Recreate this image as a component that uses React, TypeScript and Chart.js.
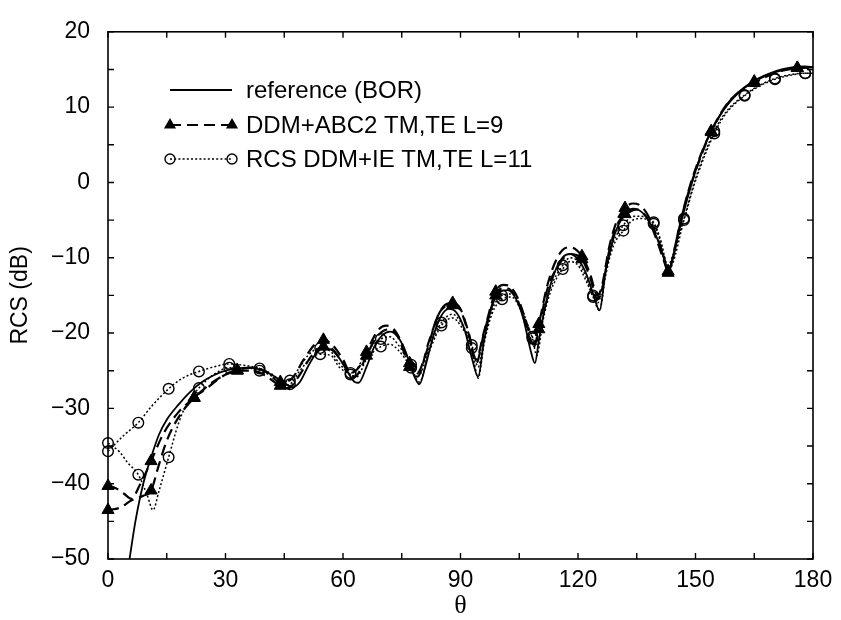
import React, { useEffect, useRef } from 'react';
import { Chart, registerables } from 'chart.js';
Chart.register(...registerables);

// Axis ticks
const xTickValues = [0, 30, 60, 90, 120, 150, 180];
const yTickValues = [-50, -40, -30, -20, -10, 0, 10, 20];

// reference (BOR) - solid
const refTheta = [5.5,7,9,11,13,15,18,21,24,27,30,33,36,39,42,45,47,49,51,53,55,57,59,61,63,64,66,68,70,72,74,76,78,79.5,81,83,85,87,89,91,93,94.5,96,98,100,102,104,106,108,109,110,112,114,116,118,120,122,124,125.5,127,129,131,133,135,137,139,141,143,144,146,148,150,152,154,156,158,160,163,166,169,172,175,178,180];
const refRcs = [-50,-45,-40,-36.5,-33.5,-31.5,-29.5,-27.8,-26.5,-25.6,-25,-24.7,-24.6,-24.9,-25.6,-26.6,-27.2,-26.5,-24.5,-22.8,-22,-22.2,-23.3,-25,-26.5,-26.6,-24.5,-21.8,-20.3,-19.8,-20.5,-22.5,-25.5,-26.8,-24.5,-20.5,-17.8,-16.8,-17.3,-19.5,-23.5,-25.8,-21,-16.5,-14.6,-14.3,-15.3,-18,-22.5,-24,-21,-15.5,-12,-10,-9.5,-10.2,-12,-15,-17,-12,-7.5,-5,-4,-3.6,-4.3,-6,-8.5,-11.5,-10.5,-6,-2,1.5,4.5,6.8,8.7,10.2,11.4,12.8,13.8,14.5,15,15.3,15.4,15.3];

// DDM+ABC2 TM (dashed, triangles)
const abcTmTheta = [0,2,4,6,8,11,14,18,22,26,29,33,37,40,44,47,50,53,55,57,60,62,64,66,69,71,73,75,77,79,81,84,86,88,90,92,94,96,99,101,103,105,107,108.5,110,112,114,116,118,121,123,125,126,128,130,132,134,136,138,140,142,143,144,146,148,150,154,158,162,165,170,176,180];
const abcTmRcs = [-40.3,-40.6,-41.3,-42,-40.3,-37,-33.5,-30.5,-28.6,-26.8,-25.8,-24.9,-24.6,-25,-26.5,-26,-23.5,-21.4,-20.9,-21.4,-23.5,-25.3,-24.6,-22.5,-19.6,-19,-19.5,-21.3,-24,-25.3,-23,-18,-16.3,-16,-16.8,-19.8,-23.5,-19.8,-14.5,-13.6,-14,-15.8,-19,-21.5,-18.8,-14,-10.8,-9,-8.6,-9.8,-12,-15,-14,-8.5,-5,-3.4,-2.8,-3.1,-4.5,-7,-10,-12,-10.5,-5.5,-1.5,1.8,6.8,10.4,12.4,13.4,14.6,15.2,15.3];

// DDM+ABC2 TE (dashed, triangles)
const abcTeTheta = [0,3,6,9,11,13,15,18,22,26,29,33,37,40,44,46,49,52,55,57,60,63,66,68,70,72,74,77,79,82,85,88,90,92,94,96,99,101,103,105,107,108.5,110,112,115,118,121,123,125,126,128,130,132,134,136,138,140,142,143,145,147,150,154,158,162,165,170,176,180];
const abcTeRcs = [-43.5,-43.2,-42.2,-41.6,-40.9,-37.5,-34.3,-31.2,-28.6,-27,-25.8,-25,-25,-25.6,-27,-27.3,-25.5,-23,-21.8,-22,-24,-25.8,-23,-21,-19.8,-19.5,-20.5,-24.5,-25.8,-21,-17,-16.3,-17,-20,-24,-20,-15,-14,-14.4,-16.2,-19.5,-22,-19.5,-14.5,-11,-9.5,-10.2,-12.5,-15.5,-14.5,-9,-5.6,-4.2,-3.5,-3.8,-5,-7.5,-10.5,-11.8,-8,-3.5,1.5,6.7,10.3,12.4,13.2,14.5,15.2,15.3];

// RCS DDM+IE TM (dotted, circles)
const ieTmTheta = [0,4,7.74,11,15.48,19,23.22,27,30.96,35,38.7,42,44.5,46.44,49,51,54.18,57,59,61.92,63.5,66,69.66,72,74,77.4,79.5,82,85.14,88,90,92.88,94.5,96,98,100.62,103,105,108.36,109.5,111,113,116.1,118,120,122,123.84,125,127,129,131.58,134,136,139.32,141,143,144,147.06,150,154.8,158,162.54,166,170.28,174,178.02,180];
const ieTmRcs = [-35.7,-33.6,-31.9,-29.8,-27.4,-26,-25.1,-24.5,-24.1,-24.3,-24.7,-25.5,-26.5,-26.3,-24.5,-23,-22,-22.5,-24,-25.3,-24.8,-22.5,-20.8,-20.5,-21.5,-24.2,-25.5,-22,-18.6,-17.5,-18.5,-21.6,-24.5,-21,-17,-15,-14.8,-16,-20.5,-21.5,-18,-14,-11,-10,-10.5,-12.5,-15,-16,-12,-8,-5.7,-4.5,-4.5,-5.3,-7.5,-11,-10,-4.8,0.5,6.8,9.5,11.6,12.8,13.8,14.3,14.5,14.5];

// RCS DDM+IE TE (dotted, circles)
const ieTeTheta = [0,3,5,7.74,10,11.5,13,15.48,18,20,23.22,27,30.96,35,38.7,42,44.5,46.44,49,51.5,54.18,57,59,61.92,63.5,66,69.66,72,74,77.4,79.5,82,85.14,88,90,92.88,94.5,96,98,100.62,103,105,108.36,109.5,111,113,116.1,118,120,122,123.84,125.5,127,129,131.58,134,136,139.32,141,143,144,147.06,150,154.8,158,162.54,166,170.28,174,178.02,180];
const ieTeRcs = [-34.6,-35.8,-37.2,-38.8,-41.5,-43.5,-41,-36.5,-32,-29.5,-27.3,-25.5,-24.6,-24.6,-25,-25.8,-27,-26.8,-25,-23.5,-22.8,-23,-24.5,-25.5,-25.8,-23.5,-21.8,-21.5,-22.2,-24.6,-26.5,-22.5,-19,-18,-19,-22,-26,-21.5,-17.5,-15.5,-15.2,-16.5,-20.7,-23,-18.5,-14.5,-11.5,-10.5,-11,-13,-15.2,-17,-12.5,-8.5,-6.4,-5,-4.8,-5.5,-7.8,-11.5,-11,-5,0.2,6.5,9.3,11.5,12.7,13.7,14.2,14.5,14.5];

// marker positions
const triangleMarkers = [0,11,22,33,44,55,66,77,88,99,110,121,132,143,154,165,176];
const circleMarkers = [0,7.74,15.48,23.22,30.96,38.7,46.44,54.18,61.92,69.66,77.4,85.14,92.88,100.62,108.36,116.1,123.84,131.58,139.32,147.06,154.8,162.54,170.28,178.02];

const legendLabels = ['reference (BOR)', 'DDM+ABC2 TM,TE L=9', 'RCS DDM+IE TM,TE L=11'];

const SANS = '"Liberation Sans", Arial, Helvetica, sans-serif';

function toPoints(t: number[], v: number[]) {
  return t.map((x, i) => ({ x, y: v[i] }));
}
function markerRadius(list: number[], r: number) {
  return (ctx: any) => {
    const raw = ctx.raw;
    if (!raw) return 0;
    return list.some((m) => Math.abs(m - raw.x) < 0.01) ? r : 0;
  };
}

const DASH = [11, 6];
const DOT = [2, 2.2];
const SOLID_W = 1.8;
const DASH_W = 2.2;
const DOT_W = 1.5;

function drawTriangle(ctx: CanvasRenderingContext2D, x: number, y: number, r: number) {
  ctx.beginPath();
  ctx.moveTo(x, y - r);
  ctx.lineTo(x + r * 0.866, y + r * 0.5);
  ctx.lineTo(x - r * 0.866, y + r * 0.5);
  ctx.closePath();
  ctx.fillStyle = '#000';
  ctx.fill();
}
function drawCircle(ctx: CanvasRenderingContext2D, x: number, y: number, r: number) {
  ctx.beginPath();
  ctx.arc(x, y, r, 0, Math.PI * 2);
  ctx.setLineDash([]);
  ctx.lineWidth = 1.4;
  ctx.strokeStyle = '#000';
  ctx.stroke();
}

const framePlugin = {
  id: 'frameTicksLegend',
  afterDatasetsDraw(chart: any) {
    const { ctx, chartArea: a, scales } = chart;
    const xs = scales.x;
    const ys = scales.y;
    ctx.save();
    ctx.setLineDash([]);
    ctx.strokeStyle = '#000';
    ctx.lineWidth = 1.6;
    ctx.strokeRect(a.left, a.top, a.right - a.left, a.bottom - a.top);
    const L = 6;
    ctx.lineWidth = 1.4;
    ctx.beginPath();
    for (let v = 0; v <= 180; v += 15) {
      const px = xs.getPixelForValue(v);
      ctx.moveTo(px, a.bottom); ctx.lineTo(px, a.bottom - L);
      ctx.moveTo(px, a.top); ctx.lineTo(px, a.top + L);
    }
    for (let v = -50; v <= 20; v += 5) {
      const py = ys.getPixelForValue(v);
      ctx.moveTo(a.left, py); ctx.lineTo(a.left + L, py);
      ctx.moveTo(a.right, py); ctx.lineTo(a.right - L, py);
    }
    ctx.stroke();

    // legend
    const x0 = 170, x1 = 232, tx = 246;
    const rows = [90, 125, 159];
    ctx.font = '24px ' + SANS;
    ctx.fillStyle = '#000';
    ctx.textBaseline = 'middle';
    ctx.textAlign = 'left';
    // row 1 solid
    ctx.beginPath(); ctx.setLineDash([]); ctx.lineWidth = SOLID_W;
    ctx.moveTo(x0, rows[0]); ctx.lineTo(x1, rows[0]); ctx.stroke();
    // row 2 dashed + triangles
    ctx.beginPath(); ctx.setLineDash(DASH); ctx.lineWidth = DASH_W;
    ctx.moveTo(x0, rows[1]); ctx.lineTo(x1, rows[1]); ctx.stroke();
    drawTriangle(ctx, x0, rows[1], 7);
    drawTriangle(ctx, x1, rows[1], 7);
    // row 3 dotted + circles
    ctx.beginPath(); ctx.setLineDash(DOT); ctx.lineWidth = DOT_W;
    ctx.moveTo(x0, rows[2]); ctx.lineTo(x1, rows[2]); ctx.stroke();
    drawCircle(ctx, x0, rows[2], 5);
    drawCircle(ctx, x1, rows[2], 5);
    ctx.fillStyle = '#000';
    legendLabels.forEach((t, i) => ctx.fillText(t, tx, rows[i] + 1));
    ctx.restore();
  },
};

export default function App() {
  const ref = useRef<HTMLCanvasElement>(null);
  useEffect(() => {
    if (!ref.current) return;
    const triOpts = {
      borderColor: '#000',
      backgroundColor: '#000',
      pointStyle: 'triangle',
      pointBackgroundColor: '#000',
      pointBorderColor: '#000',
      pointBorderWidth: 1,
      pointRadius: markerRadius(triangleMarkers, 7),
      pointHoverRadius: 0,
      borderWidth: DASH_W,
      borderDash: DASH,
      showLine: true,
      fill: false,
      cubicInterpolationMode: 'monotone',
      clip: false,
    };
    const circOpts = {
      borderColor: '#000',
      backgroundColor: 'rgba(0,0,0,0)',
      pointStyle: 'circle',
      pointBackgroundColor: 'rgba(0,0,0,0)',
      pointBorderColor: '#000',
      pointBorderWidth: 1.4,
      pointRadius: markerRadius(circleMarkers, 5.3),
      pointHoverRadius: 0,
      borderWidth: DOT_W,
      borderDash: DOT,
      showLine: true,
      fill: false,
      cubicInterpolationMode: 'monotone',
      clip: false,
    };
    const chart = new Chart(ref.current, {
      type: 'scatter',
      data: {
        datasets: [
          { label: legendLabels[0], data: toPoints(refTheta, refRcs), borderColor: '#000', backgroundColor: '#000', borderWidth: SOLID_W, pointRadius: 0, pointHoverRadius: 0, showLine: true, fill: false, cubicInterpolationMode: 'monotone', clip: false } as any,
          { label: legendLabels[1] + ' TM', data: toPoints(abcTmTheta, abcTmRcs), ...triOpts } as any,
          { label: legendLabels[1] + ' TE', data: toPoints(abcTeTheta, abcTeRcs), ...triOpts } as any,
          { label: legendLabels[2] + ' TM', data: toPoints(ieTmTheta, ieTmRcs), ...circOpts } as any,
          { label: legendLabels[2] + ' TE', data: toPoints(ieTeTheta, ieTeRcs), ...circOpts } as any,
        ],
      },
      options: {
        animation: false,
        responsive: false,
        devicePixelRatio: 1,
        events: [],
        layout: { padding: { top: 15, right: 28, left: 0, bottom: 0 } },
        plugins: { legend: { display: false }, tooltip: { enabled: false } },
        scales: {
          x: {
            type: 'linear',
            min: 0,
            max: 180,
            afterBuildTicks: (s: any) => { s.ticks = xTickValues.map((v) => ({ value: v })); },
            afterFit: (s: any) => { s.height = 61; },
            grid: { display: false, drawTicks: false },
            border: { display: false },
            ticks: { color: '#000', font: { size: 23, family: SANS }, padding: 8, maxRotation: 0, autoSkip: false },
            title: { display: true, text: 'θ', color: '#000', font: { size: 26, family: '"Liberation Serif", "DejaVu Serif", serif', lineHeight: 1.05 }, padding: { top: 0, bottom: 0 } },
          },
          y: {
            type: 'linear',
            min: -50,
            max: 20,
            afterBuildTicks: (s: any) => { s.ticks = yTickValues.map((v) => ({ value: v })); },
            afterFit: (s: any) => { s.width = 108; },
            grid: { display: false, drawTicks: false },
            border: { display: false },
            ticks: {
              color: '#000',
              font: { size: 23, family: SANS },
              padding: 18,
              autoSkip: false,
              callback: (v: any) => (v < 0 ? '\u2212' + Math.abs(v) : String(v)),
            },
            title: { display: true, text: 'RCS (dB)', color: '#000', font: { size: 23, family: SANS }, padding: { top: 7, bottom: 0 } },
          },
        },
      } as any,
      plugins: [framePlugin],
    });
    return () => chart.destroy();
  }, []);
  return (
    <div style={{ position: 'fixed', left: 0, top: 0, width: 841, height: 620, background: '#fff' }}>
      <canvas ref={ref} width={841} height={620} />
    </div>
  );
}
